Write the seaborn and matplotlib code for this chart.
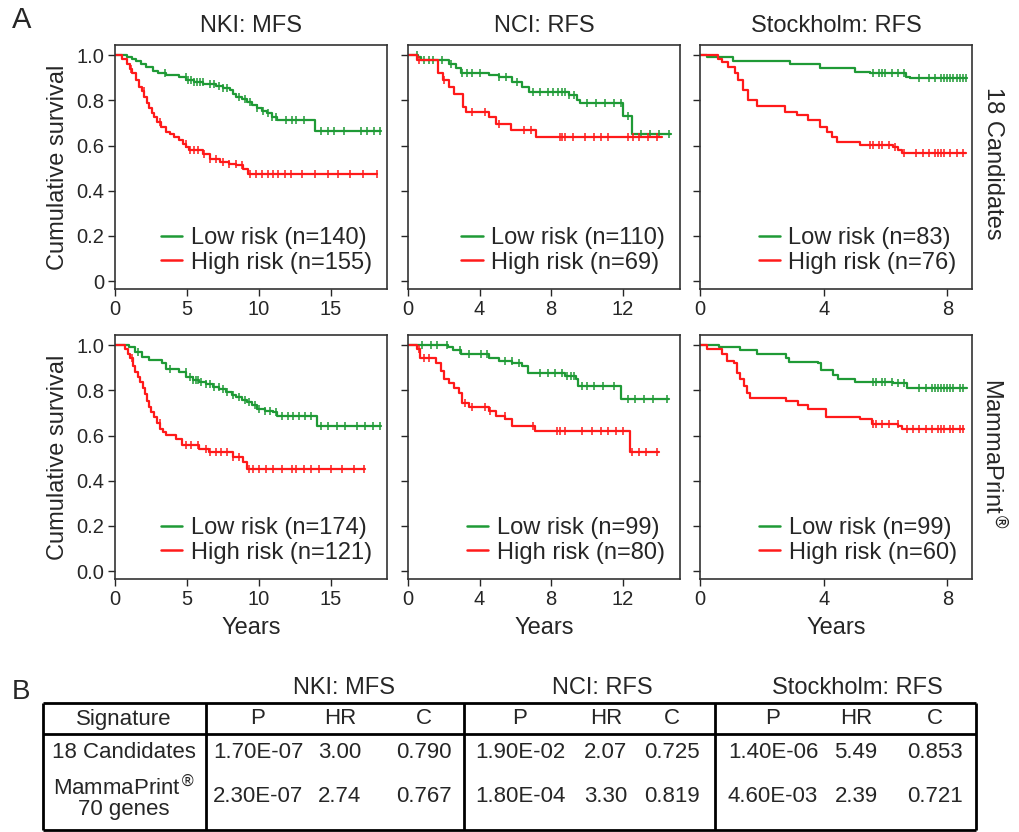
import numpy as np
import pandas as pd
import seaborn as sns
import matplotlib.pyplot as plt
from matplotlib.lines import Line2D

# ---- panel A: Kaplan-Meier step points (years, survival) ----
# row 1: 18 candidates
nki_cand_low_t = [0, 0.86, 1.2, 1.45, 1.8, 2.14, 2.61, 3.0, 3.54, 4.48, 4.94, 5.5, 6.11, 7.04, 7.5, 7.97, 8.2, 8.44, 8.8, 9.14, 9.5, 9.84, 10.2, 10.54, 10.9, 11.24, 13.92, 18.46]
nki_cand_low_s = [1.0, 0.99, 0.983, 0.975, 0.962, 0.949, 0.93, 0.92, 0.911, 0.904, 0.889, 0.882, 0.874, 0.863, 0.855, 0.845, 0.83, 0.815, 0.805, 0.793, 0.778, 0.764, 0.752, 0.742, 0.728, 0.712, 0.663, 0.663]
nki_cand_low_cens = [3.5, 4.9, 5.1, 5.3, 5.5, 5.7, 5.9, 6.1, 6.6, 6.9, 7.2, 7.5, 7.8, 8.6, 9.0, 9.4, 9.9, 10.3, 10.6, 10.9, 11.2, 11.9, 12.3, 12.6, 13.1, 14.3, 14.8, 15.2, 15.9, 17.1, 17.5, 18.0, 18.4]
nki_cand_high_t = [0, 0.51, 0.86, 1.05, 1.21, 1.45, 1.68, 1.85, 2.03, 2.2, 2.38, 2.55, 2.73, 2.95, 3.19, 3.54, 3.85, 4.13, 4.45, 4.71, 4.95, 5.17, 6.11, 6.57, 7.27, 7.9, 8.44, 8.9, 9.25, 18.23]
nki_cand_high_s = [1.0, 0.985, 0.963, 0.94, 0.919, 0.89, 0.86, 0.84, 0.815, 0.79, 0.764, 0.745, 0.727, 0.705, 0.682, 0.66, 0.65, 0.638, 0.625, 0.609, 0.595, 0.579, 0.564, 0.542, 0.527, 0.52, 0.513, 0.498, 0.476, 0.476]
nki_cand_high_cens = [1.1, 2.0, 3.1, 4.9, 5.2, 5.5, 5.8, 6.2, 6.6, 7.0, 7.5, 7.9, 8.4, 8.8, 9.4, 9.8, 10.2, 10.6, 11.0, 11.3, 11.8, 12.2, 13.0, 13.9, 14.8, 15.5, 16.3, 17.2, 18.2]

nci_cand_low_t = [0, 0.56, 0.74, 2.31, 2.69, 2.96, 4.54, 5.09, 5.83, 6.39, 6.76, 8.98, 9.44, 9.63, 12.04, 12.54, 14.69]
nci_cand_low_s = [1.0, 0.993, 0.978, 0.963, 0.941, 0.922, 0.911, 0.904, 0.882, 0.86, 0.838, 0.823, 0.8, 0.789, 0.73, 0.65, 0.65]
nci_cand_low_cens = [0.5, 0.9, 1.2, 1.4, 1.9, 2.4, 3.0, 3.3, 3.6, 4.0, 5.1, 5.5, 6.1, 7.0, 7.4, 7.8, 8.1, 8.4, 8.6, 8.8, 9.0, 9.3, 10.0, 10.5, 11.0, 11.5, 11.9, 12.3, 13.0, 13.5, 14.0, 14.6]
nci_cand_high_t = [0, 0.5, 1.67, 1.94, 2.31, 2.59, 3.06, 3.24, 4.54, 4.91, 5.74, 7.13, 14.17]
nci_cand_high_s = [1.0, 0.978, 0.919, 0.889, 0.86, 0.83, 0.771, 0.749, 0.727, 0.697, 0.668, 0.638, 0.638]
nci_cand_high_cens = [0.6, 2.0, 3.6, 4.3, 5.1, 6.5, 6.9, 8.5, 8.6, 8.8, 9.2, 9.9, 10.4, 10.8, 11.2, 12.3, 12.6, 12.9, 13.4, 13.9]

sto_cand_low_t = [0, 0.22, 1.08, 2.91, 3.88, 5.01, 5.5, 6.68, 6.79, 8.63]
sto_cand_low_s = [1.0, 0.99, 0.975, 0.963, 0.941, 0.926, 0.919, 0.904, 0.897, 0.897]
sto_cand_low_cens = [5.6, 5.8, 5.9, 6.0, 6.2, 6.4, 6.6, 7.1, 7.4, 7.6, 7.8, 7.9, 8.0, 8.1, 8.2, 8.3, 8.4, 8.5, 8.6]
sto_cand_high_t = [0, 0.59, 0.7, 0.92, 1.13, 1.24, 1.4, 1.56, 1.83, 2.75, 3.13, 3.5, 3.88, 4.1, 4.26, 4.42, 5.18, 6.25, 6.42, 6.52, 8.6]
sto_cand_high_s = [1.0, 0.985, 0.97, 0.948, 0.919, 0.889, 0.845, 0.8, 0.775, 0.749, 0.734, 0.715, 0.682, 0.66, 0.638, 0.616, 0.601, 0.594, 0.579, 0.567, 0.567]
sto_cand_high_cens = [5.5, 5.6, 5.8, 5.9, 6.1, 6.3, 6.6, 7.0, 7.2, 7.4, 7.6, 7.7, 7.8, 7.9, 8.1, 8.3, 8.5]

# row 2: MammaPrint
nki_mp_low_t = [0, 0.94, 1.41, 1.87, 2.34, 3.28, 3.52, 4.45, 4.92, 5.4, 5.86, 6.3, 6.8, 7.25, 7.73, 8.1, 8.44, 8.8, 9.14, 9.5, 9.84, 10.4, 11.01, 11.25, 14.01, 18.51]
nki_mp_low_s = [1.0, 0.993, 0.97, 0.948, 0.933, 0.919, 0.896, 0.881, 0.859, 0.848, 0.837, 0.826, 0.815, 0.804, 0.793, 0.78, 0.77, 0.759, 0.748, 0.733, 0.719, 0.71, 0.704, 0.686, 0.641, 0.641]
nki_mp_low_cens = [1.6, 3.8, 4.9, 5.2, 5.4, 5.6, 5.8, 6.0, 6.3, 6.6, 6.9, 7.2, 7.5, 7.8, 8.2, 8.6, 9.0, 9.3, 9.7, 10.0, 10.4, 10.8, 11.2, 11.6, 12.0, 12.4, 12.8, 13.2, 13.6, 14.3, 14.8, 15.4, 16.0, 16.8, 17.4, 17.9, 18.4]
nki_mp_high_t = [0, 0.7, 0.88, 1.05, 1.23, 1.41, 1.58, 1.76, 1.93, 2.11, 2.22, 2.34, 2.5, 2.7, 2.95, 3.16, 3.35, 3.52, 4.22, 4.69, 5.86, 6.56, 8.2, 8.91, 9.14, 17.34]
nki_mp_high_s = [1.0, 0.985, 0.963, 0.941, 0.91, 0.881, 0.86, 0.837, 0.81, 0.785, 0.755, 0.726, 0.705, 0.681, 0.655, 0.63, 0.615, 0.603, 0.585, 0.556, 0.541, 0.526, 0.504, 0.481, 0.452, 0.452]
nki_mp_high_cens = [1.2, 3.1, 4.9, 5.3, 5.8, 6.3, 6.6, 7.0, 7.4, 7.8, 8.2, 8.6, 9.3, 9.6, 10.0, 10.5, 11.0, 11.6, 12.3, 12.6, 13.1, 13.6, 14.2, 15.0, 15.8, 16.6, 17.3]

nci_mp_low_t = [0, 2.21, 2.49, 2.95, 4.52, 5.07, 5.81, 6.37, 6.73, 8.76, 9.41, 9.5, 11.9, 14.58]
nci_mp_low_s = [1.0, 0.99, 0.979, 0.96, 0.941, 0.93, 0.923, 0.908, 0.878, 0.864, 0.849, 0.819, 0.76, 0.76]
nci_mp_low_cens = [0.8, 1.3, 1.6, 2.2, 2.9, 3.4, 4.1, 4.4, 5.4, 5.8, 6.2, 7.4, 7.8, 8.2, 8.6, 8.9, 9.1, 9.3, 9.7, 10.0, 10.4, 10.9, 11.5, 12.3, 12.7, 13.2, 13.7, 14.5]
nci_mp_high_t = [0, 0.5, 0.65, 1.57, 1.85, 2.03, 2.31, 2.58, 2.86, 3.04, 3.41, 4.52, 4.89, 5.44, 5.81, 7.1, 12.42, 14.02]
nci_mp_high_s = [1.0, 0.982, 0.945, 0.923, 0.887, 0.849, 0.834, 0.812, 0.789, 0.745, 0.727, 0.708, 0.685, 0.671, 0.641, 0.619, 0.525, 0.525]
nci_mp_high_cens = [0.6, 0.9, 1.2, 3.2, 3.6, 4.3, 4.6, 5.4, 7.0, 8.3, 8.5, 8.8, 9.7, 10.3, 10.8, 11.2, 11.6, 12.0, 12.5, 12.9, 13.3, 13.9]

sto_mp_low_t = [0, 0.6, 1.31, 1.85, 2.77, 2.88, 3.81, 3.92, 4.3, 4.46, 5.01, 6.26, 6.69, 8.63]
sto_mp_low_s = [1.0, 0.994, 0.979, 0.96, 0.945, 0.927, 0.923, 0.89, 0.868, 0.849, 0.838, 0.831, 0.812, 0.812]
sto_mp_low_cens = [5.6, 5.7, 5.9, 6.0, 6.2, 6.4, 6.6, 7.1, 7.3, 7.5, 7.6, 7.7, 7.8, 7.9, 8.0, 8.1, 8.2, 8.4, 8.5]
sto_mp_high_t = [0, 0.22, 0.71, 0.87, 1.09, 1.2, 1.31, 1.41, 1.52, 1.63, 2.77, 3.16, 3.48, 4.08, 5.17, 5.55, 6.42, 6.53, 8.54]
sto_mp_high_s = [1.0, 0.982, 0.96, 0.93, 0.923, 0.878, 0.849, 0.819, 0.789, 0.767, 0.752, 0.733, 0.718, 0.682, 0.671, 0.653, 0.641, 0.629, 0.629]
sto_mp_high_cens = [5.6, 5.7, 5.9, 6.1, 6.4, 6.7, 6.9, 7.1, 7.3, 7.5, 7.7, 7.8, 7.9, 8.1, 8.2, 8.4, 8.5]

# group sizes for legends
n_low = [[140, 110, 83], [174, 99, 99]]
n_high = [[155, 69, 76], [121, 80, 60]]

col_titles = ["NKI: MFS", "NCI: RFS", "Stockholm: RFS"]
row_titles = ["18 Candidates", "MammaPrint$^{®}$"]
x_ticks = [[0, 5, 10, 15], [0, 4, 8, 12], [0, 4, 8]]
x_max = [18.9, 15.2, 8.8]
y_ticks = [0, 0.2, 0.4, 0.6, 0.8, 1.0]
y_ticklabels = [["0", "0.2", "0.4", "0.6", "0.8", "1.0"],
                ["0.0", "0.2", "0.4", "0.6", "0.8", "1.0"]]

# ---- panel B: table ----
groups = ["NKI: MFS", "NCI: RFS", "Stockholm: RFS"]
stat_names = ["P", "HR", "C"]
signatures = ["18 Candidates", "MammaPrint$^{®}$\n70 genes"]
p_vals = [["1.70E-07", "1.90E-02", "1.40E-06"], ["2.30E-07", "1.80E-04", "4.60E-03"]]
hr_vals = [["3.00", "2.07", "5.49"], ["2.74", "3.30", "2.39"]]
c_vals = [["0.790", "0.725", "0.853"], ["0.767", "0.819", "0.721"]]

curves = [
    [(nki_cand_low_t, nki_cand_low_s, nki_cand_low_cens, nki_cand_high_t, nki_cand_high_s, nki_cand_high_cens),
     (nci_cand_low_t, nci_cand_low_s, nci_cand_low_cens, nci_cand_high_t, nci_cand_high_s, nci_cand_high_cens),
     (sto_cand_low_t, sto_cand_low_s, sto_cand_low_cens, sto_cand_high_t, sto_cand_high_s, sto_cand_high_cens)],
    [(nki_mp_low_t, nki_mp_low_s, nki_mp_low_cens, nki_mp_high_t, nki_mp_high_s, nki_mp_high_cens),
     (nci_mp_low_t, nci_mp_low_s, nci_mp_low_cens, nci_mp_high_t, nci_mp_high_s, nci_mp_high_cens),
     (sto_mp_low_t, sto_mp_low_s, sto_mp_low_cens, sto_mp_high_t, sto_mp_high_s, sto_mp_high_cens)],
]

sns.set_theme(style="ticks")
plt.rcParams["font.family"] = ["Liberation Sans", "DejaVu Sans"]
plt.rcParams["mathtext.fontset"] = "dejavusans"

green = "#1f9a36"
red = "#ff1a1a"

W, H = 1020, 832
fig = plt.figure(figsize=(W / 100, H / 100), dpi=100)

# background axes in pixel coordinates for the table and labels
axt = fig.add_axes([0, 0, 1, 1])
axt.set_xlim(0, W)
axt.set_ylim(H, 0)
axt.axis("off")


def surv_at(t, s, x):
    idx = np.searchsorted(t, x, side="right") - 1
    return np.asarray(s)[idx]


col_left = [115, 408, 700]
row_top = [45, 335]
ax_w, ax_h = 272, 244

for r in range(2):
    for c in range(3):
        ax = fig.add_axes([col_left[c] / W, 1 - (row_top[r] + ax_h) / H, ax_w / W, ax_h / H])
        lt, ls_, lc, ht, hs, hc = curves[r][c]
        for t, s, cens, col in [(lt, ls_, lc, green), (ht, hs, hc, red)]:
            df = pd.DataFrame({"time": t, "surv": s})
            sns.lineplot(data=df, x="time", y="surv", color=col, estimator=None,
                         sort=False, drawstyle="steps-post", lw=1.6, ax=ax)
            ax.plot(cens, surv_at(t, s, cens), ls="none", marker="|", ms=6,
                    mew=1.1, color=col)

        ax.set_xlim(0, x_max[c])
        ax.set_ylim(-0.035, 1.045)
        ax.set_xticks(x_ticks[c])
        ax.set_yticks(y_ticks)
        if c == 0:
            ax.set_yticklabels(y_ticklabels[r])
            ax.set_ylabel("Cumulative survival", fontsize=17, labelpad=5)
        else:
            ax.set_yticklabels([])
            ax.set_ylabel("")
        if r == 1:
            ax.set_xlabel("Years", fontsize=17, labelpad=6)
        else:
            ax.set_xlabel("")
            ax.set_title(col_titles[c], fontsize=17, pad=9)
        ax.tick_params(direction="out", length=5, width=1, labelsize=14.5, pad=3)
        for sp in ax.spines.values():
            sp.set_visible(True)
            sp.set_linewidth(1.2)
            sp.set_color("#333333")

        handles = [Line2D([], [], color=green, lw=1.8), Line2D([], [], color=red, lw=1.8)]
        labels = [f"Low risk (n={n_low[r][c]})", f"High risk (n={n_high[r][c]})"]
        ax.legend(handles, labels, loc="lower right", frameon=False, fontsize=17,
                  handlelength=0.9, handletextpad=0.35, labelspacing=0.1,
                  borderaxespad=0.25)

    axt.text(993, row_top[r] + ax_h / 2 - 4, row_titles[r], rotation=270,
             ha="center", va="center", fontsize=17)

fig.text(12 / W, 1 - 20 / H, "A", fontsize=21, ha="left", va="center")
fig.text(12 / W, 1 - 692 / H, "B", fontsize=20, ha="left", va="center")

# table frame
tab_left, tab_right, tab_top, tab_head, tab_bottom = 43, 976, 703, 734, 830
sep_x = [206, 464, 715]
axt.hlines([tab_top, tab_head, tab_bottom], tab_left, tab_right, color="black", lw=2)
axt.vlines([tab_left] + sep_x + [tab_right], tab_top, tab_bottom, color="black", lw=2)

group_x = [344, 602, 857]
stat_x = [[258, 340, 424], [520, 606, 672], [773, 856, 935]]
head_y, row_y = 719, [752, 797]

for g in range(3):
    axt.text(group_x[g], 688, groups[g], ha="center", va="center", fontsize=17)
    for k in range(3):
        axt.text(stat_x[g][k], head_y, stat_names[k], ha="center", va="center", fontsize=16)
    for i in range(2):
        vals = [p_vals[i][g], hr_vals[i][g], c_vals[i][g]]
        for k in range(3):
            axt.text(stat_x[g][k], row_y[i], vals[k], ha="center", va="center", fontsize=16)

axt.text(124, head_y, "Signature", ha="center", va="center", fontsize=16)
for i in range(2):
    axt.text(124, row_y[i], signatures[i], ha="center", va="center", fontsize=16,
             linespacing=1.0)

fig.savefig("out.png", dpi=100)
